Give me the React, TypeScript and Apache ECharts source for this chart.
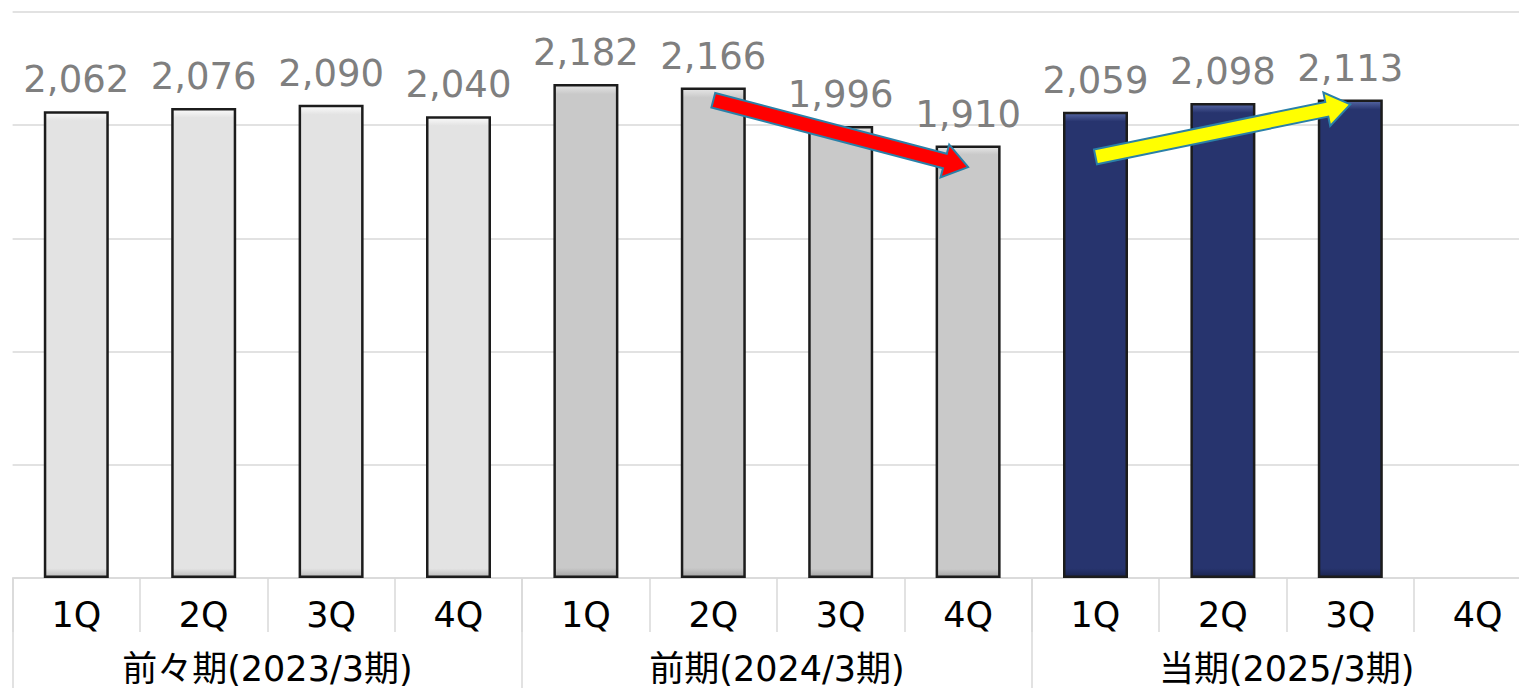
import React, { useEffect, useRef } from "react";
import * as echarts from "echarts";

const quarters = ["1Q", "2Q", "3Q", "4Q", "1Q", "2Q", "3Q", "4Q", "1Q", "2Q", "3Q", "4Q"];
const groups = ["前々期(2023/3期)", "前期(2024/3期)", "当期(2025/3期)"];
const values: (number | null)[] = [2062, 2076, 2090, 2040, 2182, 2166, 1996, 1910, 2059, 2098, 2113, null];
const barGroup = [0, 0, 0, 0, 1, 1, 1, 1, 2, 2, 2, 2];
const groupColors = ["#e3e3e3", "#c9c9c9", "#27346e"];
const groupLight = ["#fbfbfb", "#e6e6e6", "#5566a3"];
const groupDark = ["#bdbdbd", "#a4a4a4", "#1a2450"];
const yTicks = [0, 500, 1000, 1500, 2000, 2500];

// trend arrows: [categoryIndex, value] start -> end
const redArrow = { from: [5, 2110], to: [7.04, 1815], fill: "#ff0000" };
const yellowArrow = { from: [7.96, 1860], to: [10, 2092], fill: "#ffff00" };

function arrowPoints(p0: number[], p1: number[], shaft: number, headW: number, headL: number) {
  const dx = p1[0] - p0[0];
  const dy = p1[1] - p0[1];
  const len = Math.sqrt(dx * dx + dy * dy);
  const ux = dx / len, uy = dy / len;
  const nx = -uy, ny = ux;
  const bx = p1[0] - ux * headL, by = p1[1] - uy * headL;
  const s = shaft / 2, h = headW / 2;
  return [
    [p0[0] + nx * s, p0[1] + ny * s],
    [bx + nx * s, by + ny * s],
    [bx + nx * h, by + ny * h],
    [p1[0], p1[1]],
    [bx - nx * h, by - ny * h],
    [bx - nx * s, by - ny * s],
    [p0[0] - nx * s, p0[1] - ny * s],
  ];
}

export default function App() {
  const ref = useRef<HTMLDivElement>(null);
  useEffect(() => {
    if (!ref.current) return;
    const chart = echarts.init(ref.current, null, { renderer: "svg" });
    const data = values.map((v, i) => {
      const g = barGroup[i];
      return {
        value: v,
        itemStyle: {
          color: new echarts.graphic.LinearGradient(0, 0, 0, 1, [
            { offset: 0, color: groupLight[g] },
            { offset: 0.018, color: groupColors[g] },
            { offset: 0.982, color: groupColors[g] },
            { offset: 1, color: groupDark[g] },
          ]),
        },
      };
    });
    chart.setOption({
      animation: false,
      backgroundColor: "#ffffff",
      grid: { left: 12.6, top: 12, right: 0.6, bottom: 110, containLabel: false },
      xAxis: [
        {
          type: "category",
          data: quarters,
          position: "bottom",
          axisLine: { show: true, lineStyle: { color: "#d9d9d9", width: 1.5 } },
          axisTick: { show: true, interval: 0, length: 54, lineStyle: { color: "#d9d9d9", width: 1.5 } },
          axisLabel: {
            interval: 0,
            margin: 19,
            color: "#000000",
            fontSize: 35,
            fontFamily: "DejaVu Sans, Noto Sans CJK JP",
          },
        },
        {
          type: "category",
          data: groups,
          position: "bottom",
          axisLine: { show: false },
          axisTick: { show: true, interval: 0, length: 110, lineStyle: { color: "#d9d9d9", width: 1.5 } },
          axisLabel: {
            interval: 0,
            margin: 73,
            color: "#000000",
            fontSize: 35,
            fontFamily: "DejaVu Sans, Noto Sans CJK JP",
          },
        },
      ],
      yAxis: {
        type: "value",
        min: yTicks[0],
        max: yTicks[yTicks.length - 1],
        interval: 500,
        axisLabel: { show: false },
        axisLine: { show: false },
        axisTick: { show: false },
        splitLine: { show: true, lineStyle: { color: "#d9d9d9", width: 1.5 } },
      },
      series: [
        {
          type: "bar",
          xAxisIndex: 0,
          yAxisIndex: 0,
          data,
          barWidth: 65,
          itemStyle: { borderColor: "#1c1c1c", borderWidth: 2.5 },
          label: {
            show: true,
            position: "top",
            distance: 13,
            color: "#7f7f7f",
            fontSize: 37,
            fontFamily: "DejaVu Sans",
            formatter: (p: any) => (p.value == null ? "" : Number(p.value).toLocaleString("en-US")),
          },
        },
      ],
    });
    const toPx = (p: number[]) => chart.convertToPixel({ xAxisIndex: 0, yAxisIndex: 0 }, p) as number[];
    const arrows = [redArrow, yellowArrow].map((a) => ({
      type: "polygon",
      z: 100,
      shape: { points: arrowPoints(toPx(a.from), toPx(a.to), 15, 34, 24) },
      style: { fill: a.fill, stroke: "#2a80a8", lineWidth: 2 },
    }));
    chart.setOption({ graphic: arrows });
    return () => chart.dispose();
  }, []);
  return <div ref={ref} style={{ position: "fixed", left: 0, top: 0, width: 1542, height: 688 }} />;
}
